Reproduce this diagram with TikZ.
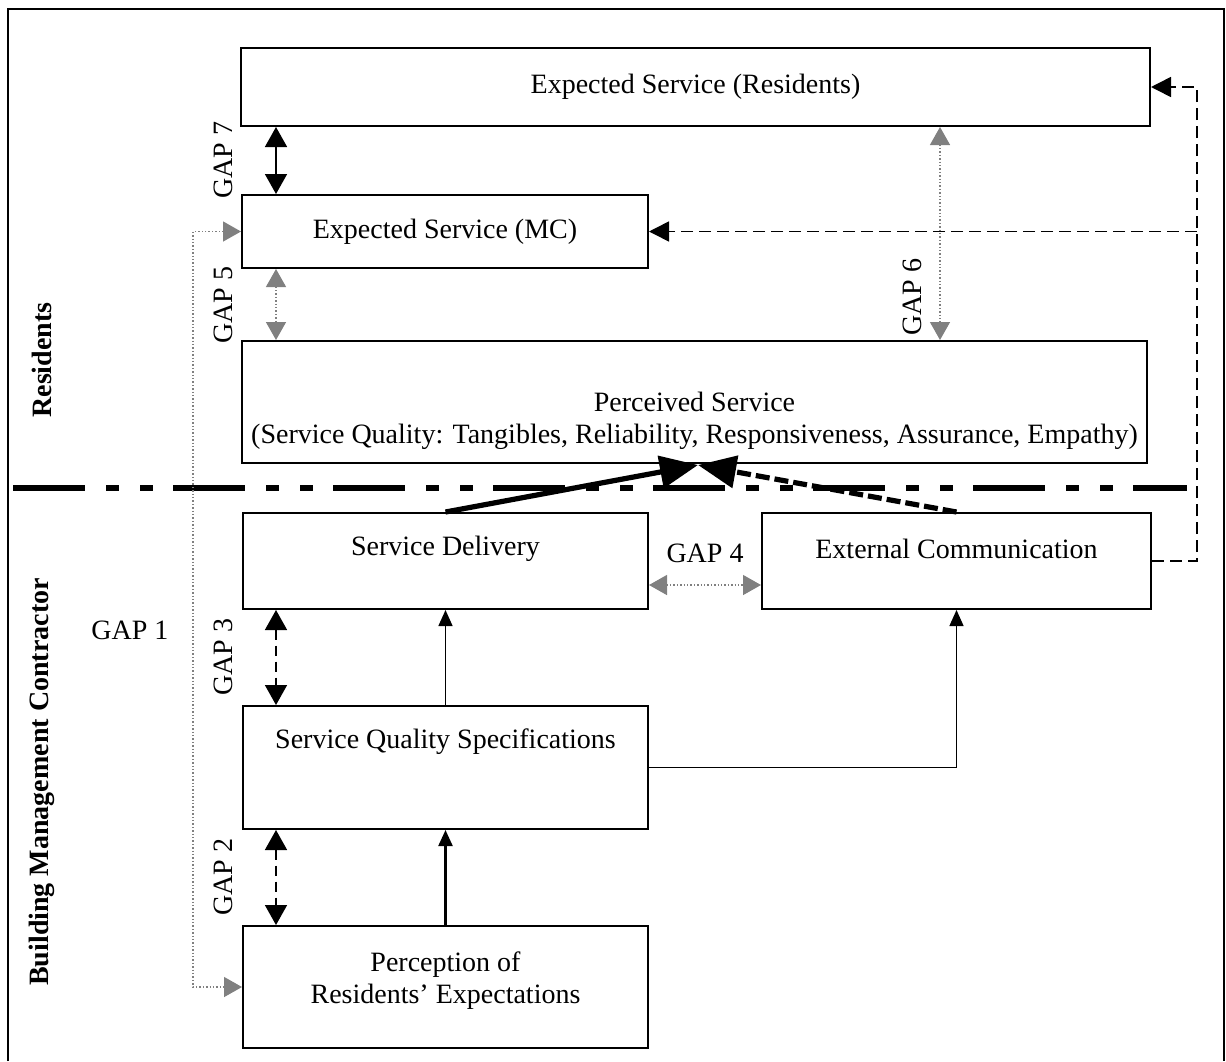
\documentclass[tikz,border=0pt]{standalone}
\usepackage{fontspec}
\setmainfont{Liberation Serif}
\usepackage{tikz}
\usetikzlibrary{arrows.meta}
\tikzset{ box/.style = {rectangle, draw, line width=1pt, inner sep=0pt, font=\fontsize{14}{17}\selectfont} }
\tikzset{ txt/.style = {font=\fontsize{14}{16}\selectfont, align=center, inner sep=0pt} }
\tikzset{ side/.style = {font=\bfseries\fontsize{14}{17}\selectfont, rotate=90, inner sep=0pt} }
\tikzset{ gaplabel/.style = {font=\fontsize{14}{17}\selectfont, rotate=90, inner sep=0pt} }
\tikzset{ gapblack/.style = {{Triangle[length=10pt,width=11pt]}-{Triangle[length=10pt,width=11pt]}, line width=0.8pt, dash pattern=on 5pt off 3pt} }
\tikzset{ gapgrey/.style = {{Triangle[length=9pt,width=10pt]}-{Triangle[length=9pt,width=10pt]}, gray, densely dotted, line width=0.7pt} }
\tikzset{ flow/.style = {line width=0.7pt, -{Triangle[length=8pt,width=7pt]}} }
\tikzset{ feedback/.style = {line width=0.8pt, dash pattern=on 6pt off 3pt, -{Triangle[length=10pt,width=10pt]}} }
\tikzset{ deliver/.style = {line width=2.6pt, -{Triangle[length=19pt,width=16pt]}} }
\tikzset{ divider/.style = {line width=3pt, dash pattern=on 36pt off 10.5pt on 6.5pt off 10.5pt on 6.5pt off 10pt} }

\begin{document}
\begin{tikzpicture}[x=0.5pt,y=-0.5pt]
    \useasboundingbox (0,0) rectangle (1226,1061);
    % outer frame
    \draw[line width=1pt] (8,1061) |- (1224,9) -- (1224,1061);

    % boxes
    \node[box, minimum width=454.5pt, minimum height=39pt] (ESR) at (695.5,87) {Expected Service (Residents)};
    \node[box, minimum width=203pt, minimum height=36.5pt] (ESMC) at (445,231.5) {Expected Service (MC)};
    \node[box, minimum width=452.5pt, minimum height=61pt] (PS) at (694.5,402) {};
    \node[box, minimum width=202.5pt, minimum height=48pt] (SD) at (445.5,561) {};
    \node[box, minimum width=194.5pt, minimum height=48pt] (EC) at (956.5,561) {};
    \node[box, minimum width=202.5pt, minimum height=61.5pt] (SQS) at (445.5,767.5) {};
    \node[box, minimum width=202.5pt, minimum height=61pt] (Perc) at (445.5,987) {};

    % box texts
    \node[txt] (PSt) at (694.5,421) {Perceived Service\\(Service Quality: Tangibles, Reliability, Responsiveness, Assurance, Empathy)};
    \node[txt] (SDt) at (445.5,549) {Service Delivery};
    \node[txt] (ECt) at (956.5,549) {External Communication};
    \node[txt] (SQSt) at (445.5,742) {Service Quality Specifications};
    \node[txt] (Perct) at (445.5,981) {Perception of\\Residents' Expectations};

    % side and gap labels
    \node[side] (res) at (42,360) {Residents};
    \node[side] (bmc) at (42,782) {Building Management Contractor};
    \node[gaplabel] (gap7) at (223,160) {GAP 7};
    \node[gaplabel] (gap5) at (223,305) {GAP 5};
    \node[gaplabel] (gap6) at (912,297) {GAP 6};
    \node[gaplabel] (gap3) at (223,657) {GAP 3};
    \node[gaplabel] (gap2) at (223,877) {GAP 2};
    \node[txt] (gap1) at (130,630) {GAP 1};
    \node[txt] (gap4) at (705,553) {GAP 4};

    % divider
    \coordinate (divL) at (13,488);
    \coordinate (divR) at (1187,488);
    \draw[divider] (divL) -- (divR);

    % gap arrows
    \coordinate (lx) at (276,0);
    \coordinate (g6) at (940,0);
    \coordinate (g4) at (0,585);
    \draw[gapblack, dash pattern=] (ESR.south -| lx) -- (ESMC.north -| lx);
    \draw[gapgrey] (ESMC.south -| lx) -- (PS.north -| lx);
    \draw[gapblack] (SD.south -| lx) -- (SQS.north -| lx);
    \draw[gapblack] (SQS.south -| lx) -- (Perc.north -| lx);
    \draw[gapgrey] (ESR.south -| g6) -- (PS.north -| g6);
    \draw[gapgrey] (SD.east |- g4) -- (EC.west |- g4);
    \draw[gapgrey] (ESMC.west) -- ++(-48,0) |- (Perc.west);

    % flows
    \draw[flow] (SQS.north) -- (SD.south);
    \draw[flow, line width=1.1pt] (Perc.north) -- (SQS.south);
    \draw[flow] (SQS.east) -| (EC.south);

    % feedback from external communication
    \coordinate (rx) at (1197,0);
    \draw[feedback] (EC.east) -- (EC.east -| rx) |- (ESR.east);
    \draw[feedback] (ESMC.east -| rx) -- (ESMC.east);

    % delivery and communication into perceived service
    \coordinate (meet) at (698,465);
    \draw[deliver] (SD.north) -- (meet);
    \draw[deliver, dash pattern=on 7pt off 2.5pt] (EC.north) -- (meet);
\end{tikzpicture}
\end{document}
